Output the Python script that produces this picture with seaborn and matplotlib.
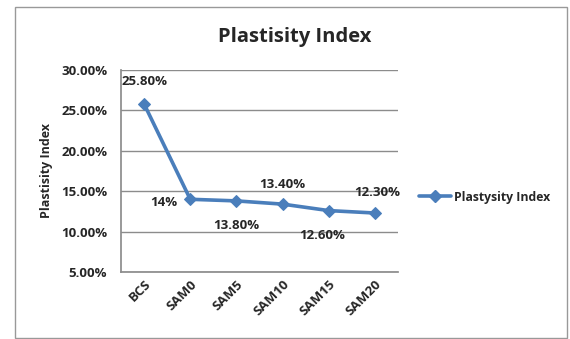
import matplotlib
matplotlib.use("Agg")
import matplotlib.pyplot as plt
import seaborn as sns
import pandas as pd
from matplotlib.ticker import FuncFormatter
from matplotlib.lines import Line2D
from matplotlib.patches import Rectangle

# Plasticity index per mix
categories = ["BCS", "SAM0", "SAM5", "SAM10", "SAM15", "SAM20"]
values = [0.258, 0.14, 0.138, 0.134, 0.126, 0.123]
labels = ["25.80%", "14%", "13.80%", "13.40%", "12.60%", "12.30%"]
yticks = [0.05, 0.10, 0.15, 0.20, 0.25, 0.30]

df = pd.DataFrame({"mix": categories, "pi": values})

sns.set_theme(style="white")
plt.rcParams["font.family"] = ["Open Sans", "DejaVu Sans"]
plt.rcParams["font.weight"] = "bold"

W, H = 570, 339
fig = plt.figure(figsize=(W / 100, H / 100), dpi=100)
fig.patch.set_facecolor("white")

# outer chart frame
fig.add_artist(Rectangle((15 / W, 1 - 338 / H), (567 - 15) / W, (338 - 7) / H,
                         transform=fig.transFigure, fill=False,
                         edgecolor="#999999", linewidth=1.0))

left, right, top, bottom = 121, 398, 70, 272
ax = fig.add_axes([left / W, 1 - bottom / H, (right - left) / W, (bottom - top) / H])

color = "#4a7ebb"
sns.lineplot(data=df, x="mix", y="pi", ax=ax, color=color, linewidth=2.6,
             marker="D", markersize=6, markeredgecolor=color, sort=False)

fs = 9.5
ax.set_xlim(-0.5, len(categories) - 0.5)
ax.set_ylim(0.05, 0.30)
ax.set_yticks(yticks)
ax.yaxis.set_major_formatter(FuncFormatter(lambda v, p: f"{v * 100:.2f}%"))
ax.grid(axis="y", color="#8c8c8c", linewidth=1.0)
ax.grid(axis="x", visible=False)
for s in ["top", "right"]:
    ax.spines[s].set_visible(False)
ax.spines["left"].set_color("#8c8c8c")
ax.spines["bottom"].set_color("#8c8c8c")
ax.tick_params(axis="y", length=0, pad=10, labelsize=fs)
ax.tick_params(axis="x", length=0, pad=4, labelsize=fs)
for t in ax.get_yticklabels():
    t.set_fontweight("bold")
plt.setp(ax.get_xticklabels(), rotation=45, ha="right", rotation_mode="anchor",
         fontweight="bold")
ax.set_xlabel("")
ax.set_ylabel("Plastisity Index", fontsize=9, fontweight="bold", labelpad=6)

# data labels
offsets = [(0, 16), (-19, -2), (0, -18), (0, 14), (-5, -18), (2, 14.5)]
for i, (v, lab, off) in enumerate(zip(values, labels, offsets)):
    ax.annotate(lab, (i, v), xytext=off, textcoords="offset points",
                ha="center", va="center", fontsize=fs, fontweight="bold")

fig.text(295 / W, 1 - 37 / H, "Plastisity Index", ha="center", va="center",
         fontsize=14.5, fontweight="bold")

handle = Line2D([], [], color=color, linewidth=2.6, marker="D", markersize=6)
fig.legend([handle], ["Plastysity Index"], loc="center left",
           bbox_to_anchor=(408 / W, 1 - 197 / H), frameon=False,
           prop={"size": 8.8, "weight": "bold"}, handlelength=2.6,
           handletextpad=0.3)

fig.savefig("out.png", dpi=100)
